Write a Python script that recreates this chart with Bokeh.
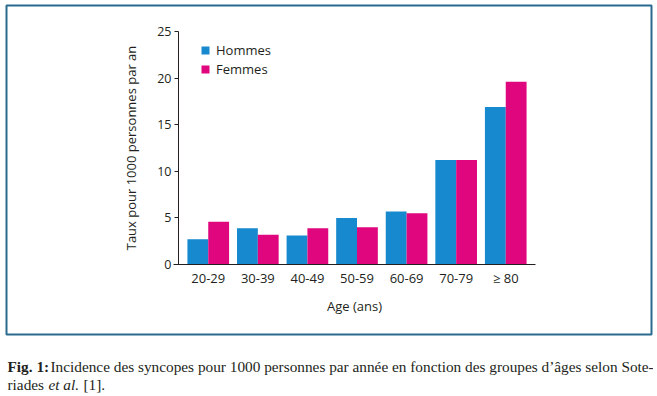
from bokeh.plotting import figure
from bokeh.models import (Range1d, Legend, LegendItem, Label, LinearAxis,
                          BoxAnnotation, ColumnDataSource, FixedTicker)
from bokeh.transform import dodge
from bokeh.embed import file_html
from bokeh.resources import INLINE

# ---- data ----
ages = ["20-29", "30-39", "40-49", "50-59", "60-69", "70-79", "≥ 80"]
hommes = [2.7, 3.9, 3.1, 5.0, 5.7, 11.2, 16.9]
femmes = [4.6, 3.2, 3.9, 4.0, 5.5, 11.2, 19.6]
y_ticks = [0, 5, 10, 15, 20, 25]
y_max = 25
series_names = ["Hommes", "Femmes"]
caption_bold = "Fig. 1:"
caption_line1 = "Incidence des syncopes pour 1000 personnes par année en fonction des groupes d’âges selon Sote-"
caption_l2a = "riades"
caption_l2b = "et al."
caption_l2c = "[1]."

BLUE = "#1689cf"
PINK = "#e0067e"
TXT = "#231f20"
FONT = "Open Sans"

# ---- layout (pixels) ----
W, H = 653, 394
FL, FR, FT, FB = 178, 535, 31, 264      # plotting area
PAD = 0.6                               # half-category padding at each side
n = len(ages)
u = (FR - FL) / (n - 1 + 2 * PAD)       # px per category
k = (FB - FT) / y_max                   # px per value unit
def cat_at(px):
    return (px - FL) / u - PAD

idx = list(range(n))
src = ColumnDataSource(dict(idx=idx, hommes=hommes, femmes=femmes))

p = figure(width=W, height=H, x_range=Range1d(0, W), y_range=Range1d(H, 0),
           x_axis_type=None, y_axis_type=None,
           output_backend="svg", toolbar_location=None,
           min_border=0)
p.outline_line_color = None

p.extra_x_ranges = {"cat": Range1d(cat_at(0), cat_at(W))}
p.extra_y_ranges = {"val": Range1d((FB - H) / k, FB / k)}

rh = p.vbar(x=dodge("idx", -0.21), top="hommes", width=0.42, source=src,
            x_range_name="cat", y_range_name="val",
            fill_color=BLUE, line_color=None)
rf = p.vbar(x=dodge("idx", 0.21), top="femmes", width=0.42, source=src,
            x_range_name="cat", y_range_name="val",
            fill_color=PINK, line_color=None)

# y axis
ya = LinearAxis(y_range_name="val", fixed_location=FL, bounds=(0, y_max),
                ticker=FixedTicker(ticks=y_ticks))
ya.minor_tick_line_color = None
ya.major_tick_in = 0
ya.major_tick_out = 4
ya.major_label_standoff = 3
ya.axis_line_color = TXT
ya.major_tick_line_color = TXT
ya.major_label_text_font = FONT
ya.major_label_text_font_size = "12.5px"
ya.major_label_text_color = TXT
ya.axis_label = "Taux pour 1000 personnes par an"
ya.axis_label_text_font = FONT
ya.axis_label_text_font_size = "13px"
ya.axis_label_text_font_style = "normal"
ya.axis_label_text_color = TXT
ya.axis_label_standoff = 14
p.add_layout(ya, "left")

# x axis
xa = LinearAxis(x_range_name="cat", y_range_name="val", fixed_location=0,
                bounds=(cat_at(FL - 5), cat_at(FR)),
                ticker=FixedTicker(ticks=idx),
                major_label_overrides={i: a for i, a in zip(idx, ages)})
xa.major_tick_line_color = None
xa.minor_tick_line_color = None
xa.major_tick_out = 0
xa.major_tick_in = 0
xa.major_label_standoff = 4
xa.axis_line_color = TXT
xa.major_label_text_font = FONT
xa.major_label_text_font_size = "13px"
xa.major_label_text_color = TXT
xa.axis_label = "Age (ans)"
xa.axis_label_text_font = FONT
xa.axis_label_text_font_size = "13px"
xa.axis_label_text_font_style = "normal"
xa.axis_label_text_color = TXT
xa.axis_label_standoff = 7
p.add_layout(xa, "below")

legend = Legend(items=[LegendItem(label=series_names[0], renderers=[rh]),
                       LegendItem(label=series_names[1], renderers=[rf])],
                location=(FL + 22, H - FT - 10 - 37), margin=0, padding=0, spacing=1,
                glyph_width=10, glyph_height=10, label_standoff=6,
                label_text_font=FONT, label_text_font_size="13px",
                label_text_color=TXT,
                border_line_color=None, background_fill_alpha=0)
p.add_layout(legend, "center")

# frame border
p.add_layout(BoxAnnotation(left=6, right=651, top=5, bottom=334,
                           fill_alpha=0, line_color="#2b6a8f", line_alpha=1,
                           line_width=2))

# caption
CAP_FONT = "Liberation Serif"
CAP_SIZE = "15.3px"
def cap(text, x, y, style="normal"):
    p.add_layout(Label(x=x, y=y, text=text,
                       text_font=CAP_FONT, text_font_size=CAP_SIZE,
                       text_font_style=style, text_color=TXT,
                       text_baseline="alphabetic", text_align="left"))

cap(caption_bold, 7, 366, "bold")
cap(caption_line1, 50, 366)
cap(caption_l2a, 7, 384)
cap(caption_l2b, 48, 384, "italic")
cap(caption_l2c, 83, 384)

open("out.html", "w").write(file_html(p, INLINE))
